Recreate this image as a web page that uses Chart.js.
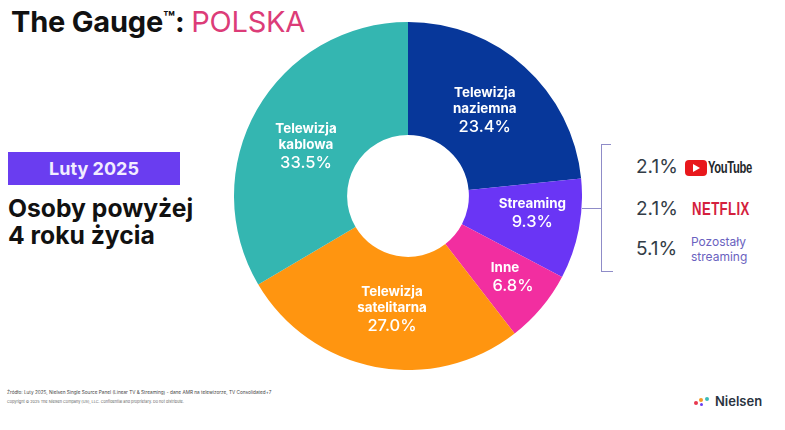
<!DOCTYPE html>
<html lang="pl">
<head>
<meta charset="utf-8">
<script src="https://cdn.jsdelivr.net/npm/chart.js@4"></script>
<style>
  html, body { margin: 0; padding: 0; background: #fff; }
  body { width: 785px; height: 430px; position: relative; overflow: hidden; font-family: Inter, 'Open Sans', sans-serif; color: #111; }
  .abs { position: absolute; white-space: nowrap; }
  #wrap { position: absolute; left: 234px; top: 22px; width: 348px; height: 348px; }
  .title { left: 11px; top: 4px; font-size: 29px; font-weight: 700; line-height: 36px; letter-spacing: -0.2px; }
  .title span { color: #dc3c78; font-weight: 400; }
  .title sup { font-size: 19px; line-height: 0; vertical-align: 7px; }
  .period { left: 8px; top: 152px; width: 172px; height: 33px; line-height: 33px; background: #6a3df0; color: #f1ecff; text-align: center; font-size: 18px; font-weight: 700; }
  .who { left: 8px; top: 195px; font-size: 24.7px; font-weight: 700; line-height: 27px; }
  .line { background: #8f8cc8; }
  .val { left: 636px; font-size: 19px; line-height: 22px; color: #333d47; }
  .yt-icon { left: 685px; top: 160px; width: 22px; height: 16px; background: #e8181c; border-radius: 4px; }
  .yt-icon i { position: absolute; left: 8px; top: 4px; border-left: 7px solid #fff; border-top: 4px solid transparent; border-bottom: 4px solid transparent; }
  .yt { left: 708px; top: 158px; font: 700 17px/20px 'Liberation Sans', sans-serif; color: #23282c; letter-spacing: -0.5px; transform: scaleX(0.66); transform-origin: left center; }
  .nf { left: 692px; top: 198px; font: 700 18px/22px 'Liberation Sans', sans-serif; color: #d4213d; letter-spacing: 0.6px; transform: scaleX(0.73); transform-origin: left center; }
  .other { left: 691px; top: 234px; font-size: 12px; line-height: 15px; color: #6a62c0; }
  .src { left: 7px; top: 388px; font-size: 4.7px; line-height: 9px; color: #444; }
  .copy { left: 7px; top: 398px; font-size: 3.8px; line-height: 8px; color: #666; }
  .brand { left: 715px; top: 393px; font-size: 13px; line-height: 16px; font-weight: 600; color: #2a3340; }
  .dot { position: absolute; border-radius: 50%; }
</style>
</head>
<body>
<div class="abs title">The Gauge<sup>™</sup>: <span>POLSKA</span></div>
<div class="abs period">Luty 2025</div>
<div class="abs who">Osoby powyżej<br>4 roku życia</div>

<div id="wrap"><canvas id="gauge"></canvas></div>

<div class="abs line" style="left:582px;top:208px;width:19px;height:1px"></div>
<div class="abs line" style="left:601px;top:144px;width:1px;height:128px"></div>
<div class="abs line" style="left:601px;top:144px;width:10px;height:1px"></div>
<div class="abs line" style="left:601px;top:271px;width:12px;height:1px"></div>

<div class="abs val" style="top:156px">2.1%</div>
<div class="abs yt-icon"><i></i></div>
<div class="abs yt">YouTube</div>
<div class="abs val" style="top:198px">2.1%</div>
<div class="abs nf">NETFLIX</div>
<div class="abs val" style="top:238px">5.1%</div>
<div class="abs other">Pozostały<br>streaming</div>

<div class="abs src">Źródło: Luty  2025, Nielsen Single Source Panel (Linear TV &amp; Streaming) - dane AMR na telewizorze, TV Consolidated+7</div>
<div class="abs copy">Copyright © 2025 The Nielsen Company (US), LLC. Confidential and proprietary. Do not distribute.</div>

<div class="dot" style="left:694px;top:401px;width:4px;height:4px;background:#e8384f"></div>
<div class="dot" style="left:699px;top:398px;width:4px;height:4px;background:#f59a23"></div>
<div class="dot" style="left:700px;top:403px;width:3px;height:3px;background:#6a3df0"></div>
<div class="dot" style="left:705px;top:397px;width:4px;height:4px;background:#3bbcb8"></div>
<div class="abs brand">Nielsen</div>

<script>
const FONT = "Inter, 'Open Sans', sans-serif";

const kategorie = [['Telewizja', 'naziemna'], ['Streaming'], ['Inne'], ['Telewizja', 'satelitarna'], ['Telewizja', 'kablowa']];
const wartosci = [23.4, 9.3, 6.8, 27.0, 33.5];
const kolory = ['#07379a', '#6a35f5', '#f22ea0', '#ff9510', '#34b6b1'];

// przesuniecie etykiet wzgledem srodka wycinka
const przesuniecia = [[-2, 2], [9, -5], [7, 6], [6, -2], [0, 9]];
// "6.8%" stoi w oryginale troche na prawo od "Inne"
const odsuniecieWartosci = [0, 0, 8, 0, 0];

Chart.register({
  id: 'etykiety',
  afterDatasetsDraw(chart) {
    const { ctx } = chart;
    chart.getDatasetMeta(0).data.forEach((el, i) => {
      const p = el.getCenterPoint();
      const x = p.x + przesuniecia[i][0];
      const linie = kategorie[i];
      const lh = 16;
      let y = p.y + przesuniecia[i][1] - (linie.length * lh + 19) / 2 + lh / 2;
      ctx.save();
      ctx.fillStyle = '#fff';
      ctx.textAlign = 'center';
      ctx.textBaseline = 'middle';
      ctx.font = `700 13.4px ${FONT}`;
      linie.forEach(t => { ctx.fillText(t, x, y); y += lh; });
      ctx.font = `500 16.5px ${FONT}`;
      ctx.fillText(wartosci[i].toFixed(1) + '%', x + odsuniecieWartosci[i], y + 2);
      ctx.restore();
    });
  }
});

new Chart(document.getElementById('gauge'), {
  type: 'doughnut',
  data: {
    labels: kategorie.map(k => k.join(' ')),
    datasets: [{ data: wartosci, backgroundColor: kolory, borderWidth: 0 }]
  },
  options: {
    responsive: true,
    maintainAspectRatio: false,
    animation: false,
    cutout: '35%',
    layout: { padding: 0 },
    plugins: { legend: { display: false }, tooltip: { enabled: false } }
  }
});
</script>
</body>
</html>
